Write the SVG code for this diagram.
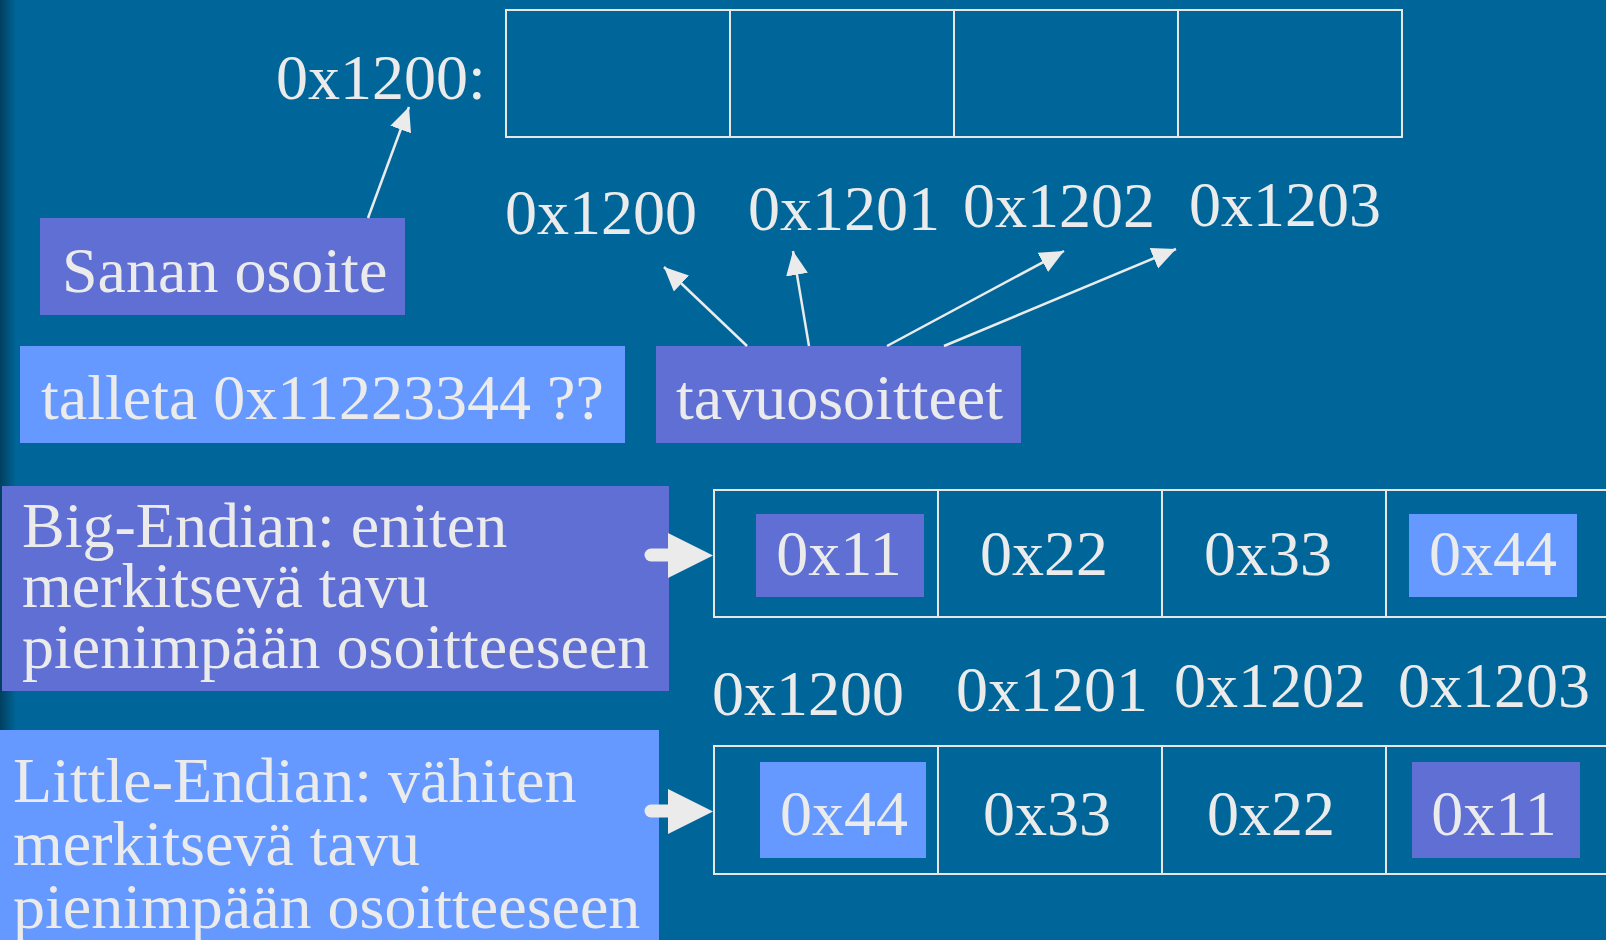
<svg xmlns="http://www.w3.org/2000/svg" width="1606" height="940" viewBox="0 0 1606 940">
<style>
.t{font-family:"Liberation Serif","Times New Roman",serif;font-size:64px;fill:#ebebeb}
.c{text-anchor:middle}
.cell{fill:none;stroke:#e6e6e6;stroke-width:2}
.pur{fill:#5f6fd4}
.blu{fill:#6699ff}
.ln{stroke:#ebebeb;stroke-width:2.5;fill:none}
.blk{fill:#ebebeb}
.shaft{stroke:#ebebeb;stroke-width:13;stroke-linecap:round}
</style>
<defs>
<linearGradient id="edge" x1="0" y1="0" x2="1" y2="0">
<stop offset="0" stop-color="#00405f"/>
<stop offset="1" stop-color="#006699"/>
</linearGradient>
<marker id="ah" markerUnits="userSpaceOnUse" markerWidth="26" markerHeight="24" refX="24" refY="11" orient="auto">
<path d="M0,0 L24,11 L0,22 Z" fill="#ebebeb"/>
</marker>
</defs>
<rect width="1606" height="940" fill="#006699"/>
<rect width="16" height="940" fill="url(#edge)"/>

<g id="word-box">
<text class="t" x="276" y="99">0x1200:</text>
<rect class="cell" x="506" y="10" width="896" height="127"/>
<line class="cell" x1="730" y1="10" x2="730" y2="137"/>
<line class="cell" x1="954" y1="10" x2="954" y2="137"/>
<line class="cell" x1="1178" y1="10" x2="1178" y2="137"/>
</g>

<g id="top-addresses">
<text class="t" x="505" y="234">0x1200</text>
<text class="t" x="748" y="230">0x1201</text>
<text class="t" x="963" y="227">0x1202</text>
<text class="t" x="1189" y="226">0x1203</text>
</g>

<g id="sanan-osoite">
<rect class="pur" x="40" y="218" width="365" height="97"/>
<text class="t" x="62" y="292">Sanan osoite</text>
</g>

<g id="talleta">
<rect class="blu" x="20" y="346" width="605" height="97"/>
<text class="t" x="41" y="419">talleta 0x11223344 ??</text>
</g>

<g id="tavuosoitteet">
<rect class="pur" x="656" y="346" width="365" height="97"/>
<text class="t" x="676" y="419">tavuosoitteet</text>
</g>

<g id="big-endian-label">
<rect class="pur" x="2" y="486" width="667" height="205"/>
<text class="t" x="22" y="547">Big-Endian: eniten<tspan x="22" y="607">merkitsevä tavu</tspan><tspan x="22" y="668">pienimpään osoitteeseen</tspan></text>
</g>

<g id="big-endian-bytes">
<rect class="cell" x="714" y="490" width="900" height="127"/>
<line class="cell" x1="938" y1="490" x2="938" y2="617"/>
<line class="cell" x1="1162" y1="490" x2="1162" y2="617"/>
<line class="cell" x1="1386" y1="490" x2="1386" y2="617"/>
<rect class="pur" x="756" y="514" width="168" height="83"/>
<text class="t c" x="839" y="575">0x11</text>
<text class="t c" x="1044" y="575">0x22</text>
<text class="t c" x="1268" y="575">0x33</text>
<rect class="blu" x="1409" y="514" width="168" height="83"/>
<text class="t c" x="1493" y="575">0x44</text>
</g>

<g id="bottom-addresses">
<text class="t" x="712" y="715">0x1200</text>
<text class="t" x="956" y="711">0x1201</text>
<text class="t" x="1174" y="707">0x1202</text>
<text class="t" x="1398" y="707">0x1203</text>
</g>

<g id="little-endian-label">
<rect class="blu" x="0" y="730" width="659" height="215"/>
<text class="t" x="13" y="802">Little-Endian: vähiten<tspan x="13" y="865">merkitsevä tavu</tspan><tspan x="13" y="928">pienimpään osoitteeseen</tspan></text>
</g>

<g id="little-endian-bytes">
<rect class="cell" x="714" y="746" width="900" height="128"/>
<line class="cell" x1="938" y1="746" x2="938" y2="874"/>
<line class="cell" x1="1162" y1="746" x2="1162" y2="874"/>
<line class="cell" x1="1386" y1="746" x2="1386" y2="874"/>
<rect class="blu" x="760" y="762" width="166" height="96"/>
<text class="t c" x="844" y="835">0x44</text>
<text class="t c" x="1047" y="835">0x33</text>
<text class="t c" x="1271" y="835">0x22</text>
<rect class="pur" x="1412" y="762" width="168" height="96"/>
<text class="t c" x="1494" y="835">0x11</text>
</g>

<g id="connectors">
<line class="ln" x1="368" y1="218" x2="409" y2="107" marker-end="url(#ah)"/>
<line class="ln" x1="747" y1="346" x2="664" y2="267" marker-end="url(#ah)"/>
<line class="ln" x1="809" y1="346" x2="793" y2="251" marker-end="url(#ah)"/>
<line class="ln" x1="887" y1="346" x2="1064" y2="251" marker-end="url(#ah)"/>
<line class="ln" x1="944" y1="346" x2="1176" y2="249" marker-end="url(#ah)"/>
<line class="shaft" x1="651" y1="555" x2="672" y2="555"/>
<polygon class="blk" points="668,533 713,555.5 668,578"/>
<line class="shaft" x1="651" y1="811" x2="672" y2="811"/>
<polygon class="blk" points="668,789 713,811.5 668,834"/>
</g>
</svg>
